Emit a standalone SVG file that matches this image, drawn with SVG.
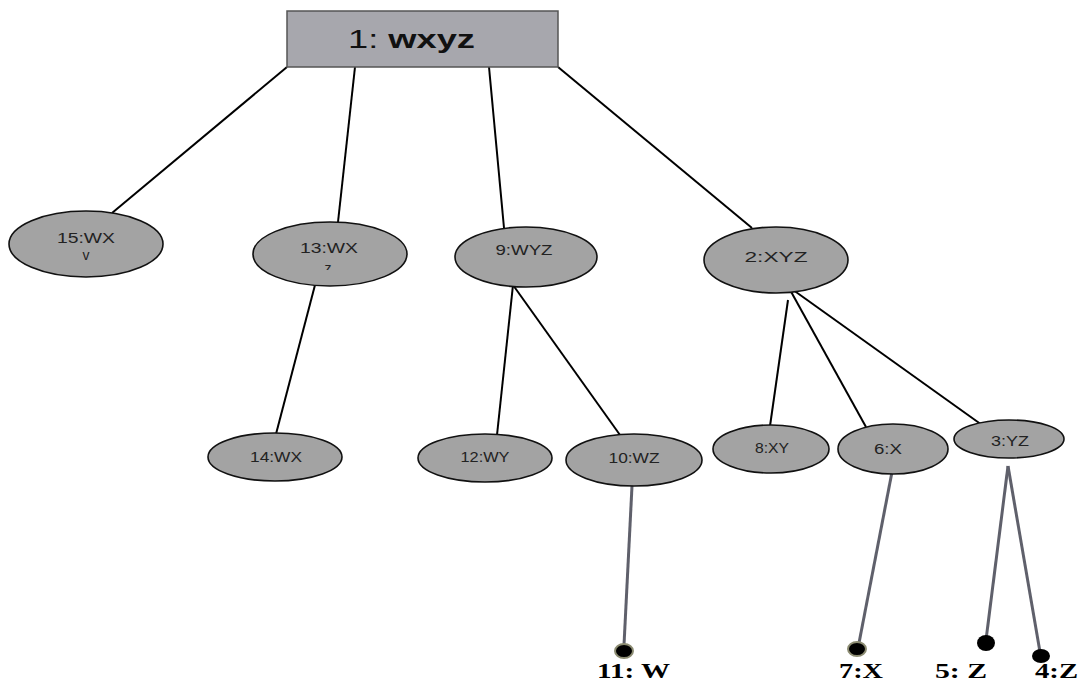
<svg xmlns="http://www.w3.org/2000/svg" width="1089" height="680" viewBox="0 0 1089 680">
<style>
.n{fill:#a3a3a3;stroke:#111;stroke-width:1.6}
.t{font-family:"Liberation Sans",Arial,sans-serif;font-size:14px;fill:#222;text-anchor:middle}
.e{stroke:#000;stroke-width:2;fill:none}
.g{stroke:#5f606b;stroke-width:3;fill:none}
.b{font-family:"Liberation Serif","Times New Roman",serif;font-weight:bold;font-size:20px;fill:#000}
.dot{fill:#000}
.dotr{fill:#000;stroke:#8c8c72;stroke-width:2}
</style>
<defs>
<clipPath id="c13"><rect x="300" y="262" width="60" height="8"/></clipPath>
</defs>
<rect width="1089" height="680" fill="#fff"/>
<g id="connectors">
<line class="e" x1="287" y1="67" x2="112" y2="213"/>
<line class="e" x1="355" y1="67" x2="338" y2="222"/>
<line class="e" x1="489" y1="67" x2="504" y2="228"/>
<line class="e" x1="558" y1="67" x2="752" y2="228"/>
<line class="e" x1="315" y1="285" x2="276" y2="434"/>
<line class="e" x1="513" y1="285" x2="497" y2="435"/>
<line class="e" x1="513" y1="285" x2="620" y2="435"/>
<line class="e" x1="788" y1="300" x2="770" y2="426"/>
<line class="e" x1="789" y1="288" x2="866" y2="427"/>
<line class="e" x1="789" y1="287" x2="982" y2="425"/>
<line class="g" x1="632" y1="486" x2="624" y2="645"/>
<line class="g" x1="892" y1="472" x2="859" y2="643"/>
<line class="g" x1="1008" y1="466" x2="986" y2="640"/>
<line class="g" x1="1008" y1="466" x2="1040" y2="652"/>
</g>
<g id="n1">
<rect x="287" y="11" width="271" height="56" fill="#a7a7ad" stroke="#555" stroke-width="1.5"/>
<text x="348" y="48" font-family="Liberation Sans,Arial,sans-serif" font-size="26" fill="#111" textLength="127" lengthAdjust="spacingAndGlyphs">1: <tspan font-weight="bold">wxyz</tspan></text>
</g>
<g id="n15">
<ellipse class="n" cx="86" cy="244" rx="77" ry="33"/>
<text class="t" x="86" y="243" textLength="58" lengthAdjust="spacingAndGlyphs">15:WX</text>
<text class="t" x="86" y="260" font-size="12">v</text>
</g>
<g id="n13">
<ellipse class="n" cx="330" cy="254" rx="77" ry="32"/>
<text class="t" x="329" y="253" textLength="58" lengthAdjust="spacingAndGlyphs">13:WX</text>
<text class="t" x="328" y="273" font-size="14" clip-path="url(#c13)">z</text>
</g>
<g id="n9">
<ellipse class="n" cx="526" cy="257" rx="71" ry="30"/>
<text class="t" x="524" y="255" textLength="57" lengthAdjust="spacingAndGlyphs">9:WYZ</text>
</g>
<g id="n2">
<ellipse class="n" cx="776" cy="260" rx="72" ry="33"/>
<text class="t" x="776" y="262" font-size="17" textLength="63" lengthAdjust="spacingAndGlyphs">2:XYZ</text>
</g>
<g id="n14">
<ellipse class="n" cx="275" cy="457" rx="67" ry="24"/>
<text class="t" x="276" y="462" textLength="52" lengthAdjust="spacingAndGlyphs">14:WX</text>
</g>
<g id="n12">
<ellipse class="n" cx="485" cy="458" rx="67" ry="24"/>
<text class="t" x="485" y="462" textLength="49" lengthAdjust="spacingAndGlyphs">12:WY</text>
</g>
<g id="n10">
<ellipse class="n" cx="634" cy="460" rx="68" ry="26"/>
<text class="t" x="634" y="463" textLength="51" lengthAdjust="spacingAndGlyphs">10:WZ</text>
</g>
<g id="n8">
<ellipse class="n" cx="771" cy="449" rx="58" ry="24"/>
<text class="t" x="772" y="453" textLength="34" lengthAdjust="spacingAndGlyphs">8:XY</text>
</g>
<g id="n6">
<ellipse class="n" cx="893" cy="449" rx="55" ry="25"/>
<text class="t" x="888" y="454" textLength="28" lengthAdjust="spacingAndGlyphs">6:X</text>
</g>
<g id="n3">
<ellipse class="n" cx="1009" cy="439" rx="55" ry="19"/>
<text class="t" x="1010" y="446" textLength="38" lengthAdjust="spacingAndGlyphs">3:YZ</text>
</g>
<g id="n11">
<ellipse class="dotr" cx="624" cy="651" rx="9" ry="7"/>
<text class="b" x="597" y="678" textLength="73" lengthAdjust="spacingAndGlyphs">11: W</text>
</g>
<g id="n7">
<ellipse class="dotr" cx="857" cy="649" rx="9" ry="7"/>
<text class="b" x="839" y="678" textLength="44" lengthAdjust="spacingAndGlyphs">7:X</text>
</g>
<g id="n5">
<ellipse class="dot" cx="986" cy="643" rx="9" ry="8"/>
<text class="b" x="935" y="678" textLength="52" lengthAdjust="spacingAndGlyphs">5: Z</text>
</g>
<g id="n4">
<ellipse class="dot" cx="1041" cy="656" rx="9" ry="7"/>
<text class="b" x="1035" y="678" textLength="43" lengthAdjust="spacingAndGlyphs">4:Z</text>
</g>
</svg>
